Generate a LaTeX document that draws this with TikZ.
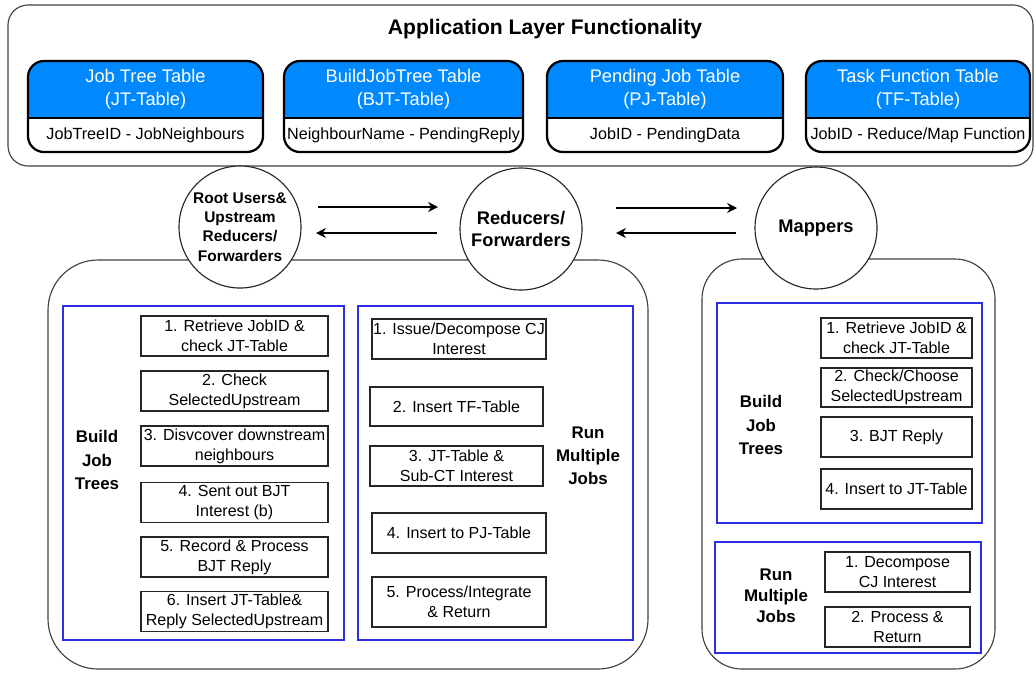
\documentclass[tikz,border=0pt]{standalone}
\usepackage{fontspec}
\setmainfont{Liberation Sans}
\usetikzlibrary{arrows.meta}

\definecolor{headblue}{RGB}{0,136,255}
\definecolor{groupblue}{RGB}{45,45,225}
\newcommand{\pxl}{0.025cm}

\tikzset{
	layerbox/.style={draw=black!75, line width=0.8pt},
	tablerim/.style={draw=black, line width=1.6pt},
	headtext/.style={text=white, align=center, font=\fontsize{13}{16}\selectfont},
	rowtext/.style={align=center, font=\fontsize{11.5}{13}\selectfont},
	role/.style={circle, draw=black!85, line width=0.8pt, fill=white, minimum size=122*\pxl, inner sep=0pt, align=center},
	groupbox/.style={draw=groupblue, line width=1pt},
	grouplabel/.style={align=center, font=\bfseries\fontsize{12}{16.5}\selectfont},
	stepbox/.style={draw=black!85, line width=0.9pt, fill=white, inner sep=0pt, align=center, font=\fontsize{11.4}{14}\selectfont},
	flow/.style={line width=1pt, -{Stealth[length=7pt, width=7pt]}}
}

% table with blue head: name, left x, right x, head text, row text
\newcommand{\jobtable}[5]{
	\begin{scope}
		\clip[rounded corners=0.4cm] (#2,61) rectangle (#3,152);
		\fill[headblue] (#2,61) rectangle (#3,118);
	\end{scope}
	\draw[tablerim, rounded corners=0.4cm] (#2,61) rectangle (#3,152);
	\draw[tablerim] (#2,118) -- (#3,118);
	\node[headtext] (#1) at ({(#2+#3)/2},89.5) {#4};
	\node[rowtext] (#1row) at ({(#2+#3)/2},135) {#5};
}

\begin{document}
\begin{tikzpicture}[x=0.025cm, y=-0.025cm]
	%%%%% START %%%%%
	\useasboundingbox (0,0) rectangle (1036,673);
	\fill[white] (0,0) rectangle (1036,673);

	% application layer
	\draw[layerbox, rounded corners=0.5cm] (8,5) rectangle (1033,166);
	\node[font=\bfseries\fontsize{15}{18}\selectfont] (title) at (545,29) {Application Layer Functionality};

	\jobtable{jt}{28}{263}{Job Tree Table\\(JT-Table)}{JobTreeID - JobNeighbours}
	\jobtable{bjt}{284}{523}{BuildJobTree Table\\(BJT-Table)}{NeighbourName - PendingReply}
	\jobtable{pj}{547}{783}{Pending Job Table\\(PJ-Table)}{JobID - PendingData}
	\jobtable{tf}{806}{1030}{Task Function Table\\(TF-Table)}{JobID - Reduce/Map Function}

	% lower boxes
	\draw[layerbox, rounded corners=1.25cm] (48,260) rectangle (648,669);
	\draw[layerbox, rounded corners=1cm] (702,259) rectangle (995,669);

	% roles
	\node[role, font=\bfseries\fontsize{11}{13.8}\selectfont] (root) at (240,227) {Root Users\&\\Upstream\\Reducers/\\Forwarders};
	\node[role, font=\bfseries\fontsize{13}{15.6}\selectfont] (red) at (521,229) {Reducers/\\Forwarders};
	\node[role, font=\bfseries\fontsize{13}{15.6}\selectfont] (map) at (816,228) {Mappers};

	\coordinate (a1) at (318,207);
	\coordinate (a2) at (438,207);
	\coordinate (a3) at (437,233);
	\coordinate (a4) at (316,233);
	\coordinate (a5) at (616,208);
	\coordinate (a6) at (737,208);
	\coordinate (a7) at (736,233);
	\coordinate (a8) at (616,233);
	\draw[flow] (a1) -- (a2);
	\draw[flow] (a3) -- (a4);
	\draw[flow] (a5) -- (a6);
	\draw[flow] (a7) -- (a8);

	% reducers: build job trees
	\draw[groupbox] (63,306) rectangle (344,640);
	\node[grouplabel] (rbuild) at (97,460) {Build\\Job\\Trees};
	\node[stepbox, minimum width=187*\pxl, minimum height=40*\pxl] (rb1) at (234.5,336) {1. Retrieve JobID \&\\check JT-Table};
	\node[stepbox, minimum width=187*\pxl, minimum height=40*\pxl] (rb2) at (234.5,391) {2. Check\\SelectedUpstream};
	\node[stepbox, minimum width=187*\pxl, minimum height=40*\pxl] (rb3) at (234.5,446) {3. Disvcover downstream\\neighbours};
	\node[stepbox, minimum width=187*\pxl, minimum height=40*\pxl] (rb4) at (234.5,502.5) {4. Sent out BJT\\Interest (b)};
	\node[stepbox, minimum width=187*\pxl, minimum height=40*\pxl] (rb5) at (234.5,557) {5. Record \& Process\\BJT Reply};
	\node[stepbox, minimum width=187*\pxl, minimum height=40*\pxl] (rb6) at (234.5,611.5) {6. Insert JT-Table\&\\Reply SelectedUpstream};

	% reducers: run multiple jobs
	\draw[groupbox] (358,306) rectangle (633,640);
	\node[grouplabel] (rrun) at (588,456) {Run\\Multiple\\Jobs};
	\node[stepbox, minimum width=174*\pxl, minimum height=40*\pxl] (rr1) at (459,339) {1. Issue/Decompose CJ\\Interest};
	\node[stepbox, minimum width=173*\pxl, minimum height=39*\pxl] (rr2) at (456.5,406.5) {2. Insert TF-Table};
	\node[stepbox, minimum width=173*\pxl, minimum height=40*\pxl] (rr3) at (456.5,466) {3. JT-Table \&\\Sub-CT Interest};
	\node[stepbox, minimum width=174*\pxl, minimum height=40*\pxl] (rr4) at (459,533) {4. Insert to PJ-Table};
	\node[stepbox, minimum width=174*\pxl, minimum height=50*\pxl] (rr5) at (459,602) {5. Process/Integrate\\\& Return};

	% mappers: build job trees
	\draw[groupbox] (717,303) rectangle (982,523);
	\node[grouplabel] (mbuild) at (761,425) {Build\\Job\\Trees};
	\node[stepbox, minimum width=151*\pxl, minimum height=40*\pxl] (mb1) at (896.5,338) {1. Retrieve JobID \&\\check JT-Table};
	\node[stepbox, minimum width=151*\pxl, minimum height=39*\pxl] (mb2) at (896.5,387.5) {2. Check/Choose\\SelectedUpstream};
	\node[stepbox, minimum width=151*\pxl, minimum height=40*\pxl] (mb3) at (896.5,437) {3. BJT Reply};
	\node[stepbox, minimum width=151*\pxl, minimum height=40*\pxl] (mb4) at (896.5,489) {4. Insert to JT-Table};

	% mappers: run multiple jobs
	\draw[groupbox] (715,542) rectangle (981,653);
	\node[grouplabel, font=\bfseries\fontsize{12}{14.8}\selectfont] (mrun) at (776,596) {Run\\Multiple\\Jobs};
	\node[stepbox, minimum width=145*\pxl, minimum height=40*\pxl] (mr1) at (897.5,572) {1. Decompose\\CJ Interest};
	\node[stepbox, minimum width=145*\pxl, minimum height=40*\pxl] (mr2) at (897.5,627) {2. Process \&\\Return};
	%%%%% END %%%%%
\end{tikzpicture}
\end{document}
